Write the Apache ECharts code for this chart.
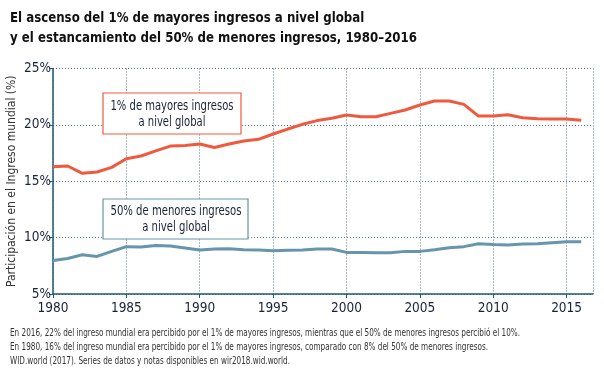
<!DOCTYPE html>
<html>
<head>
<meta charset="utf-8">
<script src="https://cdn.jsdelivr.net/npm/echarts@6/dist/echarts.min.js"></script>
<style>
html,body{margin:0;padding:0;background:#fff;}
#c{width:604px;height:376px;}
</style>
</head>
<body>
<div id="c"></div>
<script>
const years = [1980,1981,1982,1983,1984,1985,1986,1987,1988,1989,1990,1991,1992,1993,1994,1995,1996,1997,1998,1999,2000,2001,2002,2003,2004,2005,2006,2007,2008,2009,2010,2011,2012,2013,2014,2015,2016];
const top1 = [16.29,16.35,15.70,15.82,16.23,17.00,17.24,17.70,18.12,18.18,18.30,18.00,18.30,18.57,18.72,19.19,19.63,20.05,20.38,20.58,20.87,20.72,20.72,21.02,21.32,21.76,22.12,22.12,21.82,20.78,20.78,20.90,20.63,20.55,20.52,20.52,20.40];
const bottom50 = [7.97,8.15,8.48,8.33,8.78,9.20,9.17,9.31,9.26,9.08,8.90,8.99,9.02,8.93,8.90,8.84,8.87,8.90,8.99,8.99,8.69,8.69,8.66,8.66,8.78,8.78,8.93,9.10,9.20,9.46,9.40,9.35,9.43,9.46,9.55,9.64,9.64];
const yTicks = [5,10,15,20,25];
const titleLines = ['El ascenso del 1% de mayores ingresos a nivel global', 'y el estancamiento del 50% de menores ingresos, 1980–2016'];
const yAxisName = 'Participación en el Ingreso mundial (%)';
const label1 = ['1% de mayores ingresos', 'a nivel global'];
const label2 = ['50% de menores ingresos', 'a nivel global'];
const notes = [
  'En 2016, 22% del ingreso mundial era percibido por el 1% de mayores ingresos, mientras que el 50% de menores ingresos percibió el 10%.',
  'En 1980, 16% del ingreso mundial era percibido por el 1% de mayores ingresos, comparado con 8% del 50% de menores ingresos.',
  'WID.world (2017). Series de datos y notas disponibles en wir2018.wid.world.'
];

const FONT = '"DejaVu Sans Condensed", "Liberation Sans Narrow", sans-serif';
const RED = '#ef5a3e';
const BLUE = '#6596ab';
const AXIS = '#1f5a78';
const GRID = '#55768a';
const TXT = '#1a2238';

const mctx = document.createElement('canvas').getContext('2d');
function fitScale(font, str, target) {
  mctx.font = font;
  return target / mctx.measureText(str).width;
}
const titleFont = 'bold 14.5px ' + FONT;
const titleScale = fitScale(titleFont, titleLines[1], 407);
const boxFont = '14px ' + FONT;
const box1Scale = fitScale(boxFont, label1[0], 123);
const box2Scale = fitScale(boxFont, label2[0], 131);
const noteFont = '10px ' + FONT;
const noteScale = fitScale(noteFont, notes[0], 510);

const chart = echarts.init(document.getElementById('c'), null, {renderer: 'canvas'});
chart.setOption({
  animation: false,
  backgroundColor: '#ffffff',
  grid: {left: 53, top: 68.5, right: 11, bottom: 82, outerBoundsMode: 'none', containLabel: false},
  xAxis: {
    type: 'value', min: 1980, max: 2016.8, interval: 5,
    axisLine: {show: true, lineStyle: {color: AXIS, width: 1.5}},
    axisTick: {show: true, length: 4, lineStyle: {color: AXIS}},
    axisLabel: {fontFamily: FONT, fontSize: 13.5, color: TXT, margin: 7, showMaxLabel: false,
      formatter: v => String(v)},
    splitLine: {show: true, lineStyle: {color: GRID, type: [1, 2], width: 1}}
  },
  yAxis: {
    type: 'value', min: 5, max: 25, interval: 5,
    name: yAxisName, nameLocation: 'middle', nameGap: 35, nameRotate: 90, nameMoveOverlap: false,
    nameTextStyle: {fontFamily: FONT, fontSize: 12, color: '#333'},
    axisLine: {show: true, lineStyle: {color: AXIS, width: 1.5}},
    axisTick: {show: true, length: 4, lineStyle: {color: AXIS}},
    axisLabel: {fontFamily: FONT, fontSize: 13.5, color: TXT, margin: 2,
      formatter: v => yTicks.includes(v) ? v + '%' : ''},
    splitLine: {show: true, lineStyle: {color: GRID, type: [1, 2], width: 1}}
  },
  series: [
    {type: 'line', data: years.map((y, i) => [y, top1[i]]), symbol: 'none',
      lineStyle: {color: RED, width: 3}, z: 3},
    {type: 'line', data: years.map((y, i) => [y, bottom50[i]]), symbol: 'none',
      lineStyle: {color: BLUE, width: 3}, z: 3}
  ],
  graphic: [
    {type: 'text', x: 10, y: 8, scaleX: titleScale, z: 11,
      style: {text: titleLines.join('\n'), font: titleFont, fill: '#111', lineHeight: 20}},
    {type: 'rect', shape: {x: 103, y: 93, width: 138, height: 41},
      style: {fill: '#fff', stroke: RED, lineWidth: 1.2}, z: 10},
    {type: 'text', x: 172, y: 114, scaleX: box1Scale, z: 11,
      style: {text: label1.join('\n'), font: boxFont, fill: TXT, align: 'center', verticalAlign: 'middle', lineHeight: 16}},
    {type: 'rect', shape: {x: 103, y: 199, width: 145, height: 40},
      style: {fill: '#fff', stroke: BLUE, lineWidth: 1.2}, z: 10},
    {type: 'text', x: 176, y: 219.5, scaleX: box2Scale, z: 11,
      style: {text: label2.join('\n'), font: boxFont, fill: TXT, align: 'center', verticalAlign: 'middle', lineHeight: 16}},
    {type: 'text', x: 10, y: 327, scaleX: noteScale, z: 11,
      style: {text: notes.join('\n'), font: noteFont, fill: '#333', lineHeight: 13.7}}
  ]
});
</script>
</body>
</html>
